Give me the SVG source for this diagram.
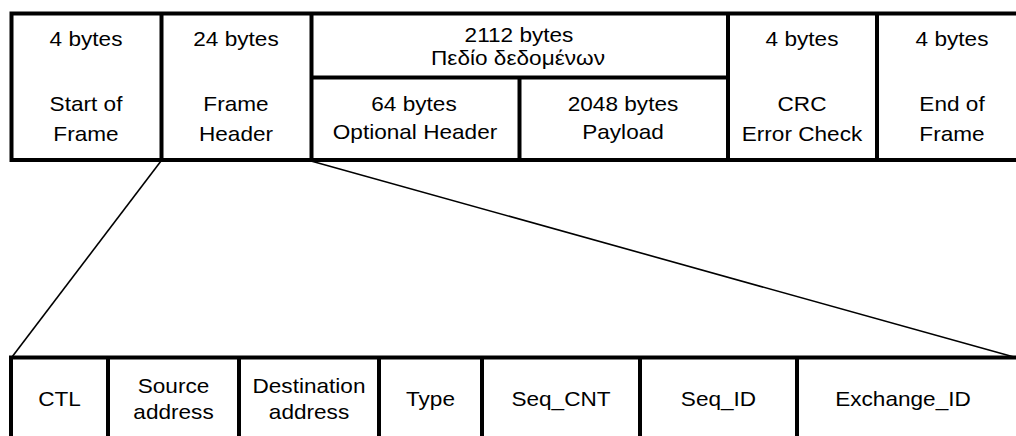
<svg xmlns="http://www.w3.org/2000/svg" width="1016" height="436" viewBox="0 0 1016 436">
<style>
.t{font-family:"Liberation Sans",Arial,sans-serif;font-size:20px;fill:#000;text-anchor:middle}
.b{fill:none;stroke:#000;stroke-width:4}
.d{fill:none;stroke:#000;stroke-width:4}
.c{fill:none;stroke:#000;stroke-width:1.6}
</style>
<rect width="1016" height="436" fill="#fff"/>
<g id="frame-outline">
<rect class="b" x="11.5" y="13.5" width="1010" height="146.5" fill="#fff"/>
</g>
<g id="sof">
<line class="d" x1="161.5" y1="13.5" x2="161.5" y2="160"/>
<text class="t" transform="translate(86,46) scale(1.13,1)">4 bytes</text>
<text class="t" transform="translate(86,111) scale(1.13,1)">Start of</text>
<text class="t" transform="translate(86,141) scale(1.13,1)">Frame</text>
</g>
<g id="frame-header">
<line class="d" x1="311.5" y1="13.5" x2="311.5" y2="160"/>
<text class="t" transform="translate(236,46) scale(1.13,1)">24 bytes</text>
<text class="t" transform="translate(236,111) scale(1.13,1)">Frame</text>
<text class="t" transform="translate(236,141) scale(1.13,1)">Header</text>
</g>
<g id="data-field">
<line class="d" x1="311.5" y1="77.5" x2="728" y2="77.5"/>
<text class="t" transform="translate(519,42) scale(1.13,1)">2112 bytes</text>
<text class="t" transform="translate(518,65) scale(1.13,1)">Πεδίο δεδομένων</text>
</g>
<g id="optional-header">
<line class="d" x1="519.5" y1="77.5" x2="519.5" y2="160"/>
<text class="t" transform="translate(414,111) scale(1.13,1)">64 bytes</text>
<text class="t" transform="translate(415,139) scale(1.13,1)">Optional Header</text>
</g>
<g id="payload">
<text class="t" transform="translate(623,111) scale(1.13,1)">2048 bytes</text>
<text class="t" transform="translate(623,139) scale(1.13,1)">Payload</text>
</g>
<g id="crc">
<line class="d" x1="728" y1="13.5" x2="728" y2="160"/>
<text class="t" transform="translate(802,46) scale(1.13,1)">4 bytes</text>
<text class="t" transform="translate(802,111) scale(1.13,1)">CRC</text>
<text class="t" transform="translate(802,141) scale(1.13,1)">Error Check</text>
</g>
<g id="eof">
<line class="d" x1="877" y1="13.5" x2="877" y2="160"/>
<text class="t" transform="translate(952,46) scale(1.13,1)">4 bytes</text>
<text class="t" transform="translate(952,111) scale(1.13,1)">End of</text>
<text class="t" transform="translate(952,141) scale(1.13,1)">Frame</text>
</g>
<g id="connectors">
<line class="c" x1="161" y1="161" x2="12" y2="357"/>
<line class="c" x1="311" y1="161" x2="1014" y2="357"/>
</g>
<g id="header-outline">
<rect class="b" x="11" y="357.5" width="1010" height="100" fill="none"/>
</g>
<g id="ctl">
<line class="d" x1="108" y1="357.5" x2="108" y2="440"/>
<text class="t" transform="translate(59.5,406) scale(1.13,1)">CTL</text>
</g>
<g id="source">
<line class="d" x1="239" y1="357.5" x2="239" y2="440"/>
<text class="t" transform="translate(173.5,393) scale(1.13,1)">Source</text>
<text class="t" transform="translate(173.5,419) scale(1.13,1)">address</text>
</g>
<g id="destination">
<line class="d" x1="379" y1="357.5" x2="379" y2="440"/>
<text class="t" transform="translate(309,393) scale(1.13,1)">Destination</text>
<text class="t" transform="translate(309,419) scale(1.13,1)">address</text>
</g>
<g id="type">
<line class="d" x1="482" y1="357.5" x2="482" y2="440"/>
<text class="t" transform="translate(430.5,406) scale(1.13,1)">Type</text>
</g>
<g id="seq-cnt">
<line class="d" x1="640" y1="357.5" x2="640" y2="440"/>
<text class="t" transform="translate(561,406) scale(1.13,1)">Seq_CNT</text>
</g>
<g id="seq-id">
<line class="d" x1="797" y1="357.5" x2="797" y2="440"/>
<text class="t" transform="translate(718.5,406) scale(1.13,1)">Seq_ID</text>
</g>
<g id="exchange-id">
<text class="t" transform="translate(903,406) scale(1.13,1)">Exchange_ID</text>
</g>
</svg>
